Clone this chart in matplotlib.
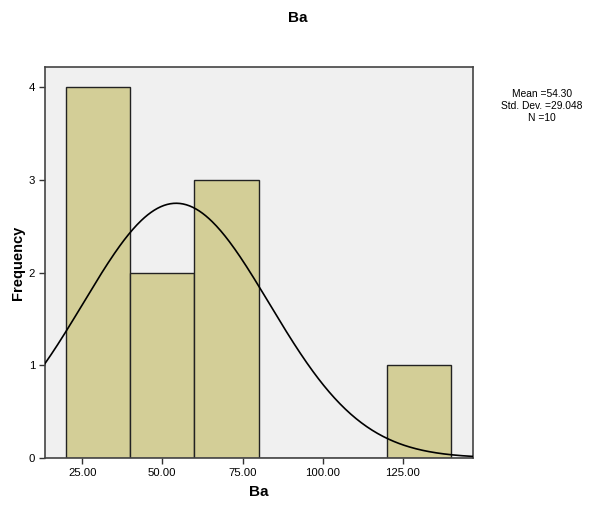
import numpy as np
import matplotlib
matplotlib.use("Agg")
import matplotlib.pyplot as plt

plt.rcParams['font.family'] = ['Liberation Sans', 'DejaVu Sans']

bin_edges = [20, 40, 60, 80, 100, 120, 140]
counts = [4, 2, 3, 0, 0, 1]
mean = 54.30
std = 29.048
n = 10
xticks = [25, 50, 75, 100, 125]
yticks = [0, 1, 2, 3, 4]

W, H = 595, 508
fig = plt.figure(figsize=(W/100, H/100), dpi=100)
ax_l, ax_r, ax_t, ax_b = 44.7, 473.0, 67.0, 458.0
ax = fig.add_axes([ax_l/W, (H-ax_b)/H, (ax_r-ax_l)/W, (ax_b-ax_t)/H])
ax.set_facecolor('#F0F0F0')

lefts = bin_edges[:-1]
widths = np.diff(bin_edges)
ax.bar(lefts, counts, width=widths, align='edge', color='#D3CE97',
       edgecolor='#222222', linewidth=1.0, zorder=2)

xlim = (13.3, 146.9)
xs = np.linspace(xlim[0], xlim[1], 400)
bw = widths[0]
ys = n * bw / (std * np.sqrt(2 * np.pi)) * np.exp(-0.5 * ((xs - mean) / std) ** 2)
ax.plot(xs, ys, color='black', linewidth=1.2, zorder=3)

ax.set_xlim(*xlim)
ax.set_ylim(0, 4.216)
ax.set_xticks(xticks)
ax.set_xticklabels([f"{v:.2f}" for v in xticks])
ax.set_yticks(yticks)
ax.tick_params(axis='both', labelsize=8.2, length=4, width=1, color='#333333', direction='out', pad=3)
for s in ax.spines.values():
    s.set_color('#444444')
    s.set_linewidth(1.2)

ax.set_xlabel('Ba', fontsize=11, fontweight='bold')
ax.set_ylabel('Frequency', fontsize=10.5, fontweight='bold')
ax.xaxis.set_label_coords(0.5, -(492 - ax_b)/(ax_b - ax_t))
ax.xaxis.label.set_va('center')
ax.yaxis.set_label_coords(-(ax_l - 18)/(ax_r - ax_l), 0.5)
ax.yaxis.label.set_va('center')
fig.text(297.5/W, 1 - 18/H, 'Ba', ha='center', va='center', fontsize=11, fontweight='bold')
fig.text(542/W, 1 - 106/H, f"Mean ={mean:.2f}\nStd. Dev. ={std:.3f}\nN ={n}",
         ha='center', va='center', fontsize=7.4, linespacing=1.2)

fig.savefig('out.png', dpi=100)
